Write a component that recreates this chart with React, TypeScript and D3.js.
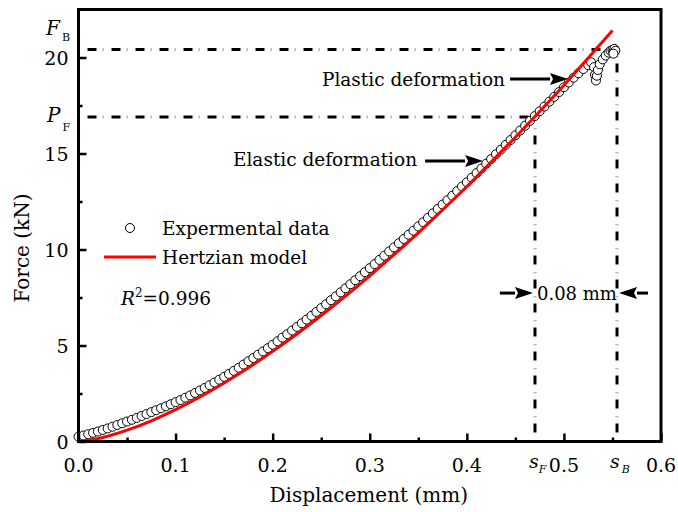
import React, { useEffect, useRef } from "react"
import * as d3 from "d3"

// experimental points (displacement mm, force kN)
const expDisp = [
  0, 0.005, 0.01, 0.015, 0.02, 0.025, 0.03, 0.035, 0.04, 0.045, 0.05, 0.055, 0.06, 0.065, 0.07, 0.075, 0.08, 0.085, 0.09, 0.095,
  0.1, 0.105, 0.11, 0.115, 0.12, 0.125, 0.13, 0.135, 0.14, 0.145, 0.15, 0.155, 0.16, 0.165, 0.17, 0.175, 0.18, 0.185, 0.19, 0.195,
  0.2, 0.205, 0.21, 0.215, 0.22, 0.225, 0.23, 0.235, 0.24, 0.245, 0.25, 0.255, 0.26, 0.265, 0.27, 0.275, 0.28, 0.285, 0.29, 0.295,
  0.3, 0.305, 0.31, 0.315, 0.32, 0.325, 0.33, 0.335, 0.34, 0.345, 0.35, 0.355, 0.36, 0.365, 0.37, 0.375, 0.38, 0.385, 0.39, 0.395,
  0.4, 0.405, 0.41, 0.415, 0.42, 0.425, 0.43, 0.435, 0.44, 0.445, 0.45, 0.455, 0.46, 0.465, 0.47, 0.475, 0.48, 0.485, 0.49, 0.495,
  0.5, 0.505, 0.51, 0.515, 0.52, 0.525, 0.528,
  0.531, 0.532, 0.533, 0.534, 0.535, 0.537, 0.54, 0.543, 0.546, 0.548, 0.55, 0.551, 0.552, 0.553, 0.551,
]
const expForce = [
  0.25, 0.31, 0.38, 0.45, 0.52, 0.6, 0.68, 0.77, 0.86, 0.95, 1.04, 1.13, 1.23, 1.33, 1.43, 1.53, 1.63, 1.73, 1.83, 1.94,
  2.05, 2.16, 2.28, 2.4, 2.53, 2.66, 2.79, 2.93, 3.07, 3.22, 3.37, 3.52, 3.68, 3.84, 4.01, 4.18, 4.35, 4.52, 4.69, 4.86,
  5.04, 5.22, 5.41, 5.59, 5.78, 5.97, 6.16, 6.35, 6.55, 6.75, 6.95, 7.15, 7.36, 7.56, 7.77, 7.98, 8.19, 8.4, 8.61, 8.82,
  9.03, 9.24, 9.46, 9.68, 9.9, 10.11, 10.33, 10.55, 10.77, 10.98, 11.2, 11.42, 11.65, 11.88, 12.11, 12.34, 12.57, 12.8, 13.04, 13.28,
  13.5, 13.74, 13.98, 14.22, 14.47, 14.71, 14.96, 15.2, 15.45, 15.7, 15.95, 16.2, 16.45, 16.7, 16.95, 17.2, 17.45, 17.7, 17.95, 18.2,
  18.45, 18.7, 18.95, 19.18, 19.4, 19.6, 19.75,
  19.5, 19.1, 18.8, 19.05, 19.35, 19.65, 19.9, 20.1, 20.25, 20.35, 20.4, 20.3, 20.45, 20.35, 20.2,
]

// Hertzian model curve
const modelDisp = [0, 0.025, 0.05, 0.075, 0.1, 0.125, 0.15, 0.175, 0.2, 0.225, 0.25, 0.275, 0.3, 0.325, 0.35, 0.375, 0.4, 0.425, 0.45, 0.475, 0.5, 0.525, 0.55]
const modelForce = [0, 0.21, 0.59, 1.08, 1.66, 2.32, 3.05, 3.84, 4.7, 5.6, 6.56, 7.57, 8.63, 9.73, 10.87, 12.06, 13.28, 14.55, 15.85, 17.19, 18.56, 19.97, 21.41]

const xMajor = [0, 0.1, 0.2, 0.3, 0.4, 0.5, 0.6]
const xMinor = [0.05, 0.15, 0.25, 0.35, 0.45, 0.55]
const yMajor = [0, 5, 10, 15, 20]
const yMinor = [2.5, 7.5, 12.5, 17.5]

// reference levels
const sF = 0.4702
const sB = 0.5547
const PF = 16.9
const FB = 20.42

const width = 678
const height = 512
const margin = { top: 9.5, right: 17, bottom: 70.5, left: 78.5 }
// Liberation Serif falls back to a sans face above 20px here, DejaVu Serif doesn't
const font = "DejaVu Serif"

function App() {
  const viz = useRef(null)

  useEffect(() => {
    const svg = d3.select(viz.current)
    svg.selectAll("*").remove()

    const x = d3.scaleLinear().domain([0, 0.6]).range([margin.left, width - margin.right])
    const y = d3.scaleLinear().domain([0, 22.5]).range([height - margin.bottom, margin.top])

    const g = svg.append("g")

    const label = (px, py, size, anchor = "start") =>
      g.append("text")
        .attr("x", px).attr("y", py)
        .attr("text-anchor", anchor)
        .style("font-family", font)
        .style("font-size", size + "px")
        .style("fill", "#000")

    // dash-dot guide line
    const guide = (x1, y1, x2, y2) => {
      g.append("line")
        .attr("x1", x1).attr("y1", y1).attr("x2", x2).attr("y2", y2)
        .attr("stroke", "#000").attr("stroke-width", 3)
        .attr("stroke-dasharray", "9 15")
        .attr("stroke-dashoffset", -9)
      g.append("line")
        .attr("x1", x1).attr("y1", y1).attr("x2", x2).attr("y2", y2)
        .attr("stroke", "#bbb").attr("stroke-width", 3)
        .attr("stroke-dasharray", "1.5 22.5")
    }
    guide(x(0), y(FB), x(sB), y(FB))
    guide(x(0), y(PF), x(sF), y(PF))
    guide(x(sB), y(0), x(sB), y(FB))
    guide(x(sF), y(0), x(sF), y(PF))

    // experimental circles
    g.append("g")
      .selectAll("circle")
      .data(expDisp.map((d, i) => [d, expForce[i]]))
      .enter()
      .append("circle")
      .attr("cx", d => x(d[0]))
      .attr("cy", d => y(d[1]))
      .attr("r", 4.5)
      .attr("fill", "#fff")
      .attr("stroke", "#000")
      .attr("stroke-width", 1)

    // model line
    const line = d3.line().x(d => x(d[0])).y(d => y(d[1])).curve(d3.curveMonotoneX)
    g.append("path")
      .attr("d", line(modelDisp.map((d, i) => [d, modelForce[i]])))
      .attr("fill", "none")
      .attr("stroke", "#ff0000")
      .attr("stroke-width", 3)

    // tick marks (inward)
    const styleAxis = a => {
      a.select(".domain").remove()
      a.selectAll("text").remove()
      a.selectAll("line").attr("stroke", "#000").attr("stroke-width", 2.5)
    }
    const xb = y(0)
    g.append("g").attr("transform", `translate(0,${xb})`)
      .call(d3.axisBottom(x).tickValues(xMajor).tickSize(-8))
      .call(styleAxis)
    g.append("g").attr("transform", `translate(0,${xb})`)
      .call(d3.axisBottom(x).tickValues(xMinor).tickSize(-4))
      .call(styleAxis)
    g.append("g").attr("transform", `translate(${x(0)},0)`)
      .call(d3.axisLeft(y).tickValues(yMajor).tickSize(-8))
      .call(styleAxis)
    g.append("g").attr("transform", `translate(${x(0)},0)`)
      .call(d3.axisLeft(y).tickValues(yMinor).tickSize(-4))
      .call(styleAxis)

    // tick labels
    const fx = d3.format(".1f")
    xMajor.forEach(v => label(x(v), 472, 19, "middle").text(fx(v)))
    yMajor.forEach(v => label(x(0) - 10, y(v) + 7, 19, "end").text(String(v)))

    // frame
    g.append("rect")
      .attr("x", x(0)).attr("y", y(22.5))
      .attr("width", x(0.6) - x(0)).attr("height", y(0) - y(22.5))
      .attr("fill", "none").attr("stroke", "#000").attr("stroke-width", 3)

    // axis titles
    label((x(0) + x(0.6)) / 2 - 1, 502, 20, "middle").text("Displacement (mm)")
    label(0, 0, 20, "middle")
      .attr("transform", "translate(29,248) rotate(-90)")
      .text("Force (kN)")

    // special tick labels
    const fb = label(46, y(FB) - 14, 20)
    fb.append("tspan").style("font-style", "italic").text("F")
    fb.append("tspan").attr("dx", 2).attr("dy", 6).style("font-size", "11px").text("B")
    const pf = label(47, y(PF) + 5, 20)
    pf.append("tspan").style("font-style", "italic").text("P")
    pf.append("tspan").attr("dx", 2).attr("dy", 9).style("font-size", "11px").text("F")
    const sf = label(x(sF) - 6, 468, 19)
    sf.append("tspan").style("font-style", "italic").text("s")
    sf.append("tspan").attr("dy", 5).style("font-size", "11px").style("font-style", "italic").text("F")
    const sb = label(x(sB) - 7, 468, 19)
    sb.append("tspan").style("font-style", "italic").text("s")
    sb.append("tspan").attr("dx", 2).attr("dy", 5).style("font-size", "11px").style("font-style", "italic").text("B")

    // arrows
    const arrow = (x1, x2, yy) => {
      const dir = Math.sign(x2 - x1)
      const hl = 18
      const hw = 6
      g.append("line")
        .attr("x1", x1).attr("y1", yy).attr("x2", x2 - dir * hl).attr("y2", yy)
        .attr("stroke", "#000").attr("stroke-width", 3)
      g.append("path")
        .attr("d", `M${x2},${yy}L${x2 - dir * hl},${yy - hw}L${x2 - dir * (hl - 3)},${yy}L${x2 - dir * hl},${yy + hw}Z`)
        .attr("fill", "#000")
    }
    arrow(x(0.4445), x(0.5042), y(18.88))
    arrow(x(0.357), x(0.4167), y(14.61))
    arrow(x(0.434), x(sF) - 2, y(7.73))
    arrow(x(0.5866), x(sB) + 2, y(7.73))

    // annotation texts
    label(x(0.4445) - 5, y(18.88) + 7, 18.5, "end").text("Plastic deformation")
    label(x(0.357) - 8, y(14.61) + 5, 18.5, "end").text("Elastic deformation")
    label(x(sF) + 2, y(7.73) + 7, 18).text("0.08 mm")

    // legend
    g.append("circle").attr("cx", 130).attr("cy", 228).attr("r", 4.5)
      .attr("fill", "#fff").attr("stroke", "#000").attr("stroke-width", 1)
    label(162, 235, 18.5).text("Expermental data")
    g.append("line").attr("x1", 104).attr("x2", 156).attr("y1", 257).attr("y2", 257)
      .attr("stroke", "#ff0000").attr("stroke-width", 3)
    label(162, 264, 18.5).text("Hertzian model")
    const r2 = label(121, 305, 18.5)
    r2.append("tspan").style("font-style", "italic").text("R")
    r2.append("tspan").attr("dy", -8).style("font-size", "12px").text("2")
    r2.append("tspan").attr("dy", 8).text("=0.996")
  }, [])

  return (
    <svg
      ref={viz}
      width={width}
      height={height}
      style={{ position: "absolute", left: 0, top: 0, background: "#fff" }}
    />
  )
}

export default App
